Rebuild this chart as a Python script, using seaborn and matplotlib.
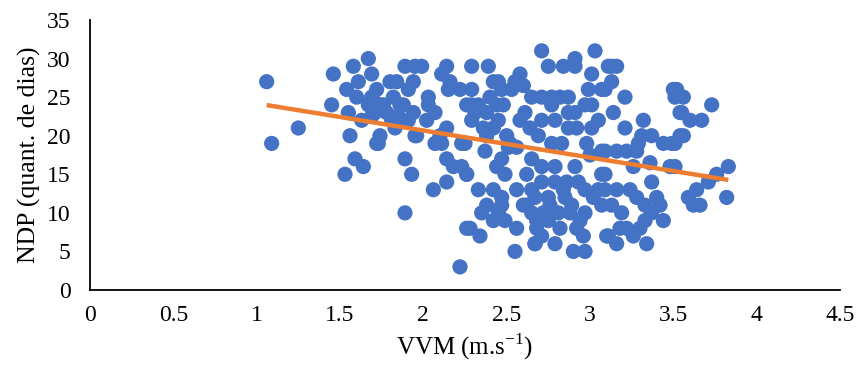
import matplotlib
matplotlib.use("Agg")
import matplotlib.pyplot as plt
import seaborn as sns
import numpy as np
import pandas as pd

vvm = [
    1.06, 1.09, 1.25, 1.46, 1.58, 1.67, 1.69, 1.61, 1.54, 1.60, 1.45, 1.55, 1.63, 1.56, 1.59, 1.64, 1.53,
    1.89, 1.93, 1.89, 1.80, 1.89, 1.95, 1.91, 1.94, 1.72, 1.70, 1.76, 1.82, 1.88, 1.94, 1.84, 1.74, 1.72, 1.95,
    1.69, 1.67, 1.74, 1.71, 1.69, 1.81, 1.73,
    1.99, 2.14, 2.11, 2.16, 2.15, 2.22, 1.84, 2.03, 2.03, 2.07, 2.26, 1.85, 1.91, 1.83, 1.96, 2.14,
    2.07, 2.11, 2.23, 2.14, 2.23, 2.18, 2.26, 2.06, 2.14, 2.26, 2.22,
    2.29, 2.39, 2.71, 2.42, 2.45, 2.58, 2.55, 2.29, 2.47, 2.60, 2.65, 2.29, 2.33, 2.48, 2.61, 2.38,
    2.29, 2.45, 2.64, 2.42, 2.38, 2.25, 2.37, 2.51, 2.56, 2.47, 2.65, 2.44, 2.26, 2.62, 2.49,
    2.33, 2.42, 2.56, 2.65, 2.47, 2.38, 2.47, 2.62, 2.35, 2.45, 2.42, 2.49, 2.65, 2.28, 2.34,
    2.56, 2.68, 2.67, 2.55,
    3.03, 2.75, 2.84, 2.91, 2.91, 3.01, 2.99, 3.07, 3.11, 2.71, 2.77, 2.82, 2.87, 2.97, 3.01, 2.77,
    2.91, 2.87, 2.71, 2.79, 3.05, 3.01, 2.87, 2.92, 2.69, 2.77, 2.83, 2.98, 3.07, 3.00, 2.91, 2.79,
    3.07, 2.71, 2.71, 2.79, 2.86, 2.93, 2.97, 3.05, 2.75, 2.67, 2.85, 2.89, 2.97, 3.07, 2.72, 2.81,
    2.69, 2.75, 2.92, 2.96, 2.71, 2.79, 2.67, 2.90, 2.97, 3.10,
    3.13, 3.16, 3.13, 3.09, 3.21, 3.50, 3.51, 3.54, 3.14, 3.32, 3.21, 3.31, 3.37, 3.29, 3.44, 3.49,
    3.54, 3.16, 3.22, 3.09, 3.28, 3.26, 3.36, 3.48, 3.37, 3.09, 3.16, 3.24, 3.09, 3.28, 3.40, 3.13,
    3.33, 3.42, 3.19, 3.37, 3.33, 3.22, 3.11, 3.16, 3.34,
    3.52, 3.56, 3.73, 3.55, 3.60, 3.67, 3.56, 3.51, 3.51, 3.83, 3.76, 3.71, 3.64, 3.59, 3.62, 3.66, 3.82,
    2.36, 2.40, 2.52, 2.58, 2.44, 2.50, 2.60, 2.31, 2.53, 2.68, 2.82, 2.88, 2.94, 3.02, 2.76, 2.84,
    1.78, 1.86, 2.02, 2.10, 3.18, 3.26, 3.44, 3.30,
]
ndp = [
    27, 19, 21, 28, 29, 30, 28, 27, 26, 25, 24, 23, 22, 20, 17, 16, 15,
    17, 15, 10, 27, 29, 29, 26, 27, 26, 24.5, 24, 25, 24, 23, 22, 20, 19, 20,
    25, 24, 24, 23, 22.5, 22, 19,
    29, 29, 28, 27, 26, 26, 27, 25, 24, 23, 24, 22.5, 22, 21, 20, 21,
    19, 19, 19, 17, 16, 16, 15, 13, 14, 8, 3,
    29, 29, 31, 27, 27, 28, 27, 26, 26, 26.5, 25, 24, 24, 24, 23, 23,
    22, 22, 21, 21, 20, 19, 18, 18.5, 18.5, 17, 17, 16, 15, 15, 15,
    13, 13, 13, 13, 12, 11, 11, 11, 10, 10, 9, 9, 10, 8, 7,
    8, 8, 6, 5,
    31, 29, 29, 30, 29, 28, 26, 26, 29, 25, 25, 25, 25, 24, 24, 24,
    23, 23, 22, 22, 22, 21, 21, 21, 20, 19, 19, 19, 18, 17.5, 16, 16,
    15, 16, 14, 14, 14, 14, 13, 13, 12, 12, 12, 11, 10, 11, 10, 10,
    9, 9, 8, 7, 7, 6, 6, 5, 5, 7,
    29, 29, 27, 26, 25, 26, 25, 23, 23, 22, 21, 20, 20, 19, 19, 19,
    20, 18, 18, 18, 18, 16, 16.5, 16, 14, 15, 13, 13, 13, 12, 12, 11,
    11, 11, 10, 10, 9, 8, 7, 6, 6,
    26, 25, 24, 23, 22, 22, 20, 19, 16, 16, 15, 14, 13, 12, 11, 11, 12,
    21, 25, 19, 22, 24, 20, 11, 23, 26, 9, 8, 10, 9, 12, 11, 13,
    23, 24, 22, 20, 8, 7, 9, 8,
]

n = min(len(vvm), len(ndp))
df = pd.DataFrame({"VVM": vvm[:n], "NDP": ndp[:n]})

sns.set_theme(style="white")
plt.rcParams["font.family"] = ["Liberation Serif", "DejaVu Serif"]
plt.rcParams["mathtext.fontset"] = "custom"
plt.rcParams["mathtext.rm"] = "Liberation Serif"

fig = plt.figure(figsize=(8.56, 3.69), dpi=100)
ax = fig.add_axes([90/856, 79/369, 750/856, 270/369])

sns.regplot(data=df, x="VVM", y="NDP", ax=ax, ci=None,
            scatter_kws=dict(s=120, color="#4472C4", alpha=1, linewidths=0, edgecolors="none", zorder=2),
            line_kws=dict(color="#ED7D31", lw=3.2, zorder=3, solid_capstyle="butt"))

ax.set_xlim(0, 4.5)
ax.set_ylim(0, 35)
ax.set_xticks(np.arange(0, 4.51, 0.5))
ax.set_xticklabels(["0", "0.5", "1", "1.5", "2", "2.5", "3", "3.5", "4", "4.5"])
ax.set_yticks(np.arange(0, 36, 5))
ax.tick_params(axis="x", length=0, labelsize=17, colors="black", pad=11)
ax.tick_params(axis="y", length=0, labelsize=17, colors="black", pad=14)
for s in ["top", "right"]:
    ax.spines[s].set_visible(False)
for s in ["left", "bottom"]:
    ax.spines[s].set_color("black")
    ax.spines[s].set_linewidth(1.3)
ax.set_xlabel(r"VVM (m.s$^{\mathregular{-1}}$)", fontsize=18, color="black", labelpad=4)
ax.set_ylabel("NDP (quant. de dias)", fontsize=18.5, color="black", labelpad=4)

fig.savefig("out.png", dpi=100)
